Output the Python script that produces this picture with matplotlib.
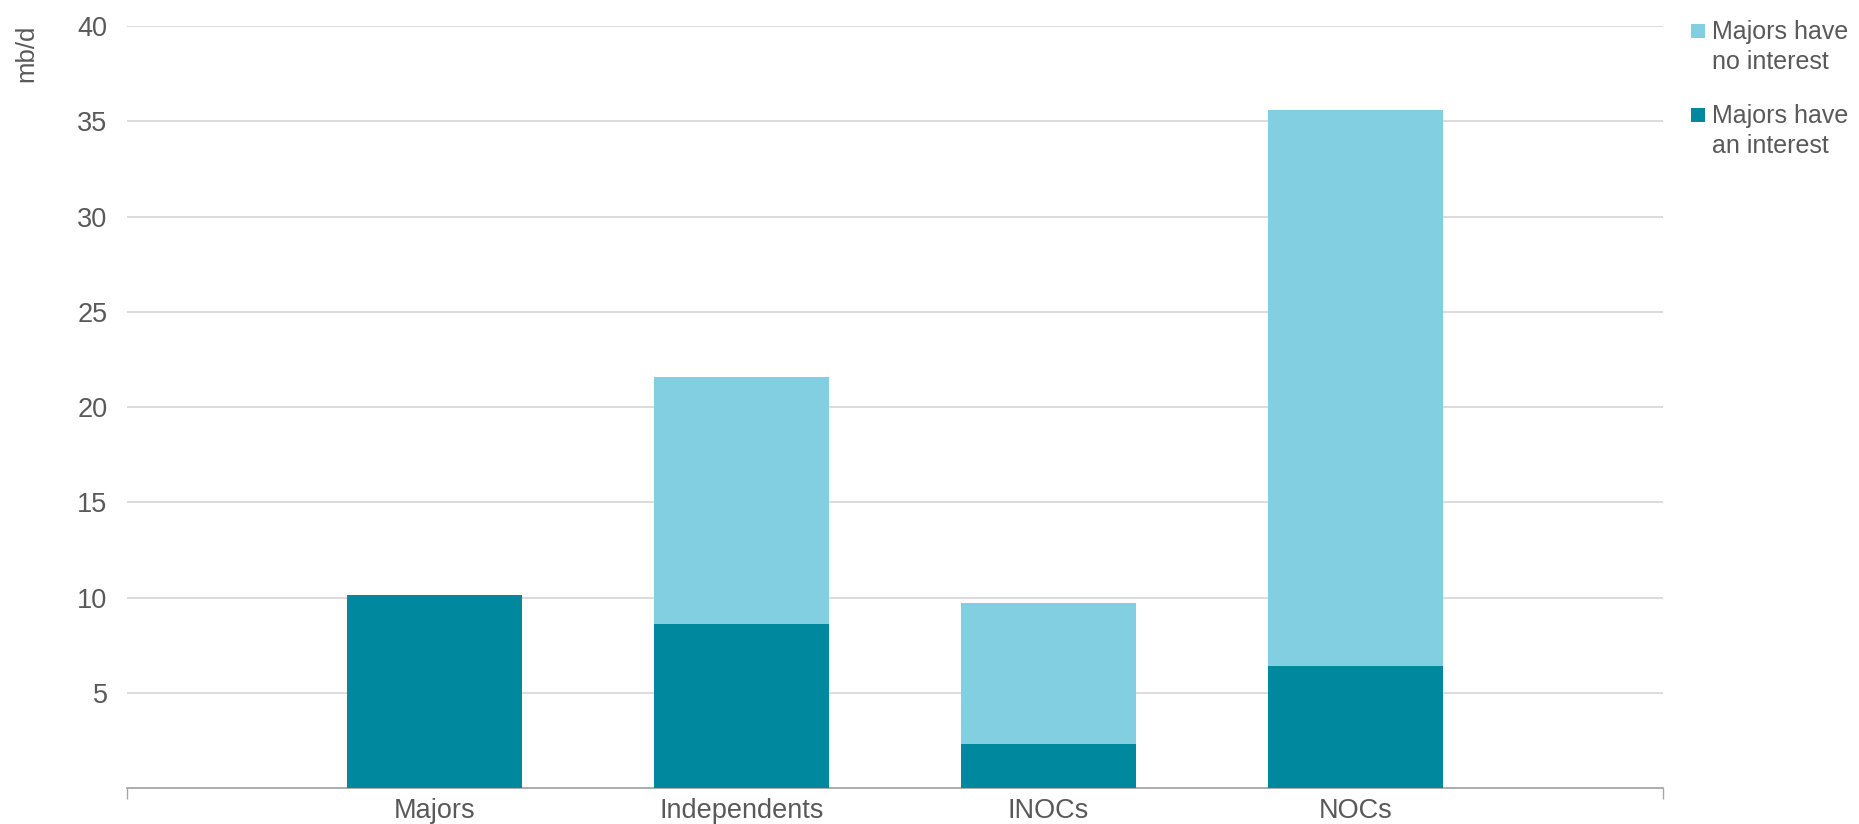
import matplotlib.pyplot as plt
from matplotlib.patches import Rectangle

plt.rcParams['font.family'] = ['Liberation Sans', 'DejaVu Sans']

# --- DATA ---
categories = ['Majors', 'Independents', 'INOCs', 'NOCs']
have_interest = [10.15, 8.6, 2.3, 6.4]
no_interest = [0.0, 13.0, 7.4, 29.2]
y_ticks = [5, 10, 15, 20, 25, 30, 35, 40]
legend_labels = ['Majors have\nno interest', 'Majors have\nan interest']

DARK = '#00889E'
LIGHT = '#82CFE2'
TEXT = '#595959'

W, H = 1859, 824
fig = plt.figure(figsize=(W / 100, H / 100), dpi=100)
ax = fig.add_axes([0.0683, 0.0437, 0.8263, 0.9247])

x = range(len(categories))
ax.bar(x, have_interest, width=0.57, color=DARK, zorder=3)
ax.bar(x, no_interest, width=0.57, bottom=have_interest, color=LIGHT, zorder=3)

ax.set_xlim(-1, 4)
ax.set_ylim(0, 40)
ax.set_yticks(y_ticks)
ax.set_xticks(list(x))
ax.set_xticklabels(categories)
ax.set_xticks([-1, 4], minor=True)
ax.tick_params(axis='x', which='major', length=0, pad=7, labelsize=19.5, labelcolor=TEXT)
ax.tick_params(axis='x', which='minor', length=8, color='#A6A6A6', width=1)
ax.tick_params(axis='y', length=0, pad=14, labelsize=19.5, labelcolor=TEXT)

ax.grid(axis='y', color='#D9D9D9', linewidth=1.3, zorder=0)
for s in ['top', 'right', 'left']:
    ax.spines[s].set_visible(False)
ax.spines['bottom'].set_color('#A6A6A6')
ax.spines['bottom'].set_linewidth(1.3)

fig.text(0.014, 0.9357, 'mb/d', rotation=90, fontsize=18.5, color=TEXT,
         ha='center', va='center')

# legend: square lined up with the first line of each two-line label
# (va='baseline' on multi-line text anchors the last line)
for i, (lab, col) in enumerate(zip(legend_labels, [LIGHT, DARK])):
    off = i * 84
    fig.patches.append(Rectangle((1691 / W, 1 - (38 + off) / H), 14 / W, 14 / H,
                                 transform=fig.transFigure, facecolor=col,
                                 edgecolor='none', figure=fig))
    fig.text(1712 / W, 1 - (69 + off) / H, lab, fontsize=18, color=TEXT,
             ha='left', va='baseline', linespacing=1.33)

fig.savefig('out.png', dpi=100)
